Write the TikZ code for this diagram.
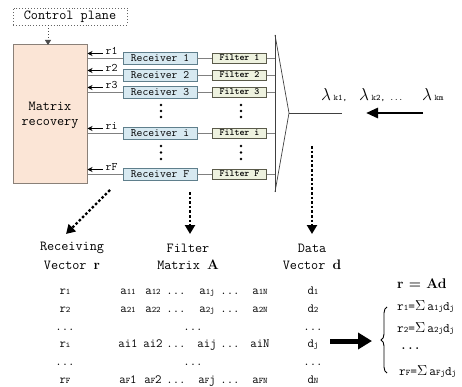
\documentclass[tikz,border=0pt]{standalone}
\usepackage{fontspec}
\renewcommand*\familydefault{\ttdefault}
\usetikzlibrary{arrows.meta,decorations.pathreplacing,calc}
\definecolor{matfill}{HTML}{FBE5D6}
\definecolor{matborder}{HTML}{8A8078}
\definecolor{recfill}{HTML}{D7E9F1}
\definecolor{recborder}{HTML}{5F7F8C}
\definecolor{filfill}{HTML}{EEF2DF}
\definecolor{filborder}{HTML}{5A5A4A}
\definecolor{wirecol}{HTML}{808080}
\newcommand\sbs[1]{{\fontsize{8.5}{9}\selectfont #1}}
\newcommand\ellip{...}
\newcommand\bsym[1]{{\rmfamily\bfseries #1}}
\newcommand\bigsig{\raisebox{-0.5pt}{\fontsize{15}{15}\selectfont$\Sigma$}}
\tikzset{
  recv/.style={draw=recborder, fill=recfill, line width=0.9pt, minimum width=74pt, minimum height=12pt, inner sep=0pt, font=\fontsize{11.3}{11}\selectfont},
  filt/.style={draw=filborder, fill=filfill, line width=0.9pt, minimum width=54pt, minimum height=10pt, inner sep=0pt, font=\fontsize{9.5}{9}\selectfont\bfseries},
  wire/.style={draw=wirecol, line width=0.9pt},
  rarrow/.style={line width=0.9pt, -{Stealth[length=5pt,width=5pt]}},
  rlab/.style={font=\fontsize{11.5}{11}\selectfont, inner sep=0pt},
  big/.style={font=\fontsize{13.8}{15}\selectfont, inner sep=0pt},
  cell/.style={font=\fontsize{12.5}{13}\selectfont, inner sep=0pt, anchor=base},
  eq/.style={font=\fontsize{13}{13}\selectfont, inner sep=0pt, anchor=base west},
  dotarrow/.style={line width=2.4pt, dash pattern=on 2.6pt off 2pt, -{Triangle[length=9pt,width=10pt]}},
  vdot/.style={circle, fill=black, inner sep=0pt, minimum size=2.6pt},
  demux/.style={draw=black!75, line width=0.7pt},
}
\begin{document}
\begin{tikzpicture}[x=1pt,y=-1pt]
\useasboundingbox (0,0) rectangle (462,387);

% control plane
\node[big, draw=black!60, dotted, line width=0.9pt, minimum width=114pt, minimum height=17pt] (cp) at (70,16.5) {Control plane};
% matrix recovery
\node[draw=matborder, fill=matfill, line width=1pt, minimum width=74pt, minimum height=139pt, inner sep=0pt] (mr) at (50,114.5) {};
\node[big] (mrt) at (50,106) {Matrix};
\node[big] (mrt2) at (50,124) {recovery};
\draw[line width=0.9pt, dotted, black!70, -{Triangle[length=5pt,width=6pt]}] (cp.south -| 48,0) -- (48,45);

% receivers and filters
\node[recv] (rec1) at (160,58) {Receiver 1};
\node[recv] (rec2) at (160,75) {Receiver 2};
\node[recv] (rec3) at (160,92) {Receiver 3};
\node[recv] (rec4) at (160,133) {Receiver i};
\node[recv] (rec5) at (160,174) {Receiver F};
\node[filt] (fil1) at (239.5,58) {Filter 1};
\node[filt] (fil2) at (239.5,75) {Filter 2};
\node[filt] (fil3) at (239.5,92) {Filter 3};
\node[filt] (fil4) at (239.5,133) {Filter i};
\node[filt] (fil5) at (239.5,174) {Filter F};

% demux
\coordinate (dmT) at (275,35);
\coordinate (dmB) at (275,192);
\coordinate (dmA) at (289,113);
\coordinate (fibre) at (342,113);
\draw[demux] (dmT) -- (dmB);
\draw[demux] (dmT) -- (dmA) -- (dmB);
\draw[demux] (dmA) -- (fibre);

\foreach \i/\lab in {1/r1,2/r2,3/r3,4/ri,5/rF}{
  \draw[wire] (rec\i.west -| mr.east) -- (rec\i.west);
  \draw[wire] (rec\i.east) -- (fil\i.west);
  \draw[wire] (fil\i.east) -- (fil\i.east -| dmT);
  \coordinate (as\i) at ($(rec\i.west)+(-20,-4.5)$);
  \draw[rarrow] (as\i) -- (as\i -| mr.east);
  \node[rlab] (lab\i) at ($(rec\i.west)+(-11,-7)$) {\lab};
}

% vertical dots
\foreach \y in {105,111,117,146,152.5,159}{
  \node[vdot] at (161,\y) {};
  \node[vdot] at (241,\y) {};
}

% lambda
\node[inner sep=0pt, anchor=base west] (l1) at (321,101) {\fontsize{16}{16}\selectfont$\lambda$\,\sbs{k1,}};
\node[inner sep=0pt, anchor=base west] (l2) at (359,101) {\fontsize{16}{16}\selectfont$\lambda$\,\sbs{k2, \ellip}};
\node[inner sep=0pt, anchor=base west] (l3) at (422,101) {\fontsize{16}{16}\selectfont$\lambda$\,\sbs{km}};
\coordinate (lamS) at (423,113);
\coordinate (lamE) at (366,113);
\draw[line width=2.8pt, -{Triangle[length=12pt,width=10pt]}] (lamS) -- (lamE);

% dotted arrows
\coordinate (d1s) at (110,190); \coordinate (d1e) at (66,234);
\coordinate (d2s) at (190,192); \coordinate (d2e) at (190,234);
\coordinate (d3s) at (312,146); \coordinate (d3e) at (312,234);
\draw[dotarrow] (d1s) -- (d1e);
\draw[dotarrow] (d2s) -- (d2e);
\draw[dotarrow] (d3s) -- (d3e);

% bottom labels
\node[big] (h1a) at (72,248) {Receiving};
\node[big] (h1b) at (72,265) {Vector \bsym{r}};
\node[big] (h2a) at (188,248) {Filter};
\node[big] (h2b) at (188,265) {Matrix \bsym{A}};
\node[big] (h3a) at (312,248) {Data};
\node[big] (h3b) at (312,265) {Vector \bsym{d}};

% rows
\foreach \y/\r/\d in {294/r\sbs{1}/d\sbs{1}, 312/r\sbs{2}/d\sbs{2}, 330/\ellip/\ellip, 347/r\sbs{i}/d\sbs{j}, 365/\ellip/\ellip, 383/r\sbs{F}/d\sbs{N}}{
  \node[cell] at (65,\y) {\r};
  \node[cell] at (313,\y) {\d};
}
\foreach \y/\a/\b/\c/\e in {294/a\sbs{11}/a\sbs{12}/a\sbs{1j}/a\sbs{1N}, 312/a\sbs{21}/a\sbs{22}/a\sbs{2j}/a\sbs{2N}, 347/ai1/ai2/aij/aiN, 383/a\sbs{F}1/a\sbs{F}2/a\sbs{F}j/a\sbs{FN}}{
  \node[cell] at (128,\y) {\a};
  \node[cell] at (153,\y) {\b};
  \node[cell] at (176,\y) {\ellip};
  \node[cell] at (207,\y) {\c};
  \node[cell] at (230,\y) {\ellip};
  \node[cell] at (260,\y) {\e};
}
\node[cell] (md1) at (193,330) {\ellip};
\node[cell] (md2) at (193,365) {\ellip};

% result arrow
\coordinate (ra1) at (330,341);
\coordinate (ra2) at (372,341);
\draw[line width=5pt, -{Triangle[length=14pt,width=16pt]}] (ra1) -- (ra2);

% brace and equations
\coordinate (brB) at (387,373);
\coordinate (brT) at (387,307);
\draw[line width=0.9pt, decorate, decoration={brace, amplitude=6pt}] (brB) -- (brT);
\node[eq] (e0) at (397,288) {\bsym{\fontsize{14}{14}\selectfont r = Ad}};
\node[eq] (e1) at (397,310) {r\sbs{1}=\bigsig\,a\sbs{1j}d\sbs{j}};
\node[eq] (e2) at (397,332) {r\sbs{2}=\bigsig\,a\sbs{2j}d\sbs{j}};
\node[eq] (e3) at (400,349) {\bfseries \ellip};
\node[eq] (e4) at (399,375) {r\sbs{F}=\bigsig\,a\sbs{Fj}d\sbs{j}};
\end{tikzpicture}
\end{document}
